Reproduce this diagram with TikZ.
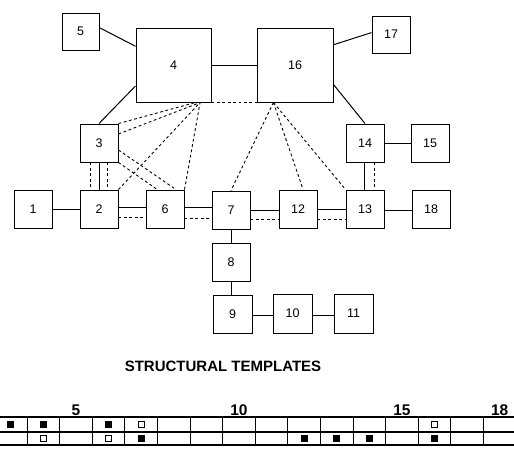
\documentclass[tikz,border=0pt]{standalone}
\usepackage{fontspec}
\setmainfont{Liberation Sans}
\usetikzlibrary{calc}
\begin{document}
\begin{tikzpicture}[x=1pt,y=-1pt,
  box/.style={draw,line width=1pt,inner sep=0pt,minimum width=38pt,minimum height=38pt,font=\fontsize{12.5}{15}\selectfont},
  conn/.style={line width=1pt},
  dsh/.style={line width=0.9pt,dash pattern=on 2.8pt off 2.6pt},
  tnum/.style={font=\bfseries\fontsize{15.5}{18}\selectfont,inner sep=0pt},
  fsq/.style={fill=black,inner sep=0pt,minimum size=7pt},
  osq/.style={draw,fill=white,line width=0.7pt,inner sep=0pt,minimum size=5.5pt}]
\useasboundingbox (0,0) rectangle (514,461);
% boxes
\node[box,minimum width=37pt,minimum height=37pt] (n5) at (80.5,31.5) {5};
\node[box,minimum width=75pt,minimum height=74pt] (n4) at (173.5,65) {4};
\node[box,minimum width=76pt,minimum height=74pt] (n16) at (295,65) {16};
\node[box,minimum height=37pt] (n17) at (391,34.5) {17};
\node[box] (n3) at (99,143) {3};
\node[box] (n14) at (365,143) {14};
\node[box] (n15) at (430,143) {15};
\node[box] (n1) at (33,209) {1};
\node[box] (n2) at (99,209) {2};
\node[box] (n6) at (165,209) {6};
\node[box] (n7) at (231,210) {7};
\node[box] (n12) at (298,209) {12};
\node[box] (n13) at (365,209) {13};
\node[box] (n18) at (431,209) {18};
\node[box] (n8) at (231,262) {8};
\node[box,minimum width=39pt] (n9) at (232.5,314) {9};
\node[box,minimum width=39pt,minimum height=39pt] (n10) at (292.5,313.5) {10};
\node[box,minimum width=39pt,minimum height=39pt] (n11) at (353.5,313.5) {11};
% solid connectors
\draw[conn] ($(n5.north east)!0.4!(n5.south east)$) -- ($(n4.north west)!0.25!(n4.south west)$);
\draw[conn] ($(n4.north west)!0.78!(n4.south west)$) -- (n3.north);
\draw[conn] (n4.east) -- (n16.west);
\draw[dsh] (n4.south east) -- (n16.south west);
\draw[conn] ($(n16.north east)!0.23!(n16.south east)$) -- ($(n17.north west)!0.45!(n17.south west)$);
\draw[conn] ($(n16.north east)!0.76!(n16.south east)$) -- (n14.north);
\draw[conn] (n14.east) -- (n15.west);
\draw[conn] ([xshift=-1pt]n14.south) -- ([xshift=-1pt]n13.north);
\draw[dsh] ([xshift=9pt]n14.south) -- ([xshift=9pt]n13.north);
\draw[conn] (n3.south) -- (n2.north);
\draw[dsh] ([xshift=-9pt]n3.south) -- ([xshift=-9pt]n2.north);
\draw[dsh] ([xshift=8pt]n3.south) -- ([xshift=8pt]n2.north);
\draw[conn] (n1.east) -- (n2.west);
\draw[conn] (n2.east |- 0,207) -- (n6.west |- 0,207);
\draw[dsh] (n2.east |- 0,217) -- (n6.west |- 0,217);
\draw[conn] (n6.east |- 0,207) -- (n7.west |- 0,207);
\draw[dsh] (n6.east |- 0,218) -- (n7.west |- 0,218);
\draw[conn] (n7.east |- 0,210) -- (n12.west |- 0,210);
\draw[dsh] (n7.east |- 0,219) -- (n12.west |- 0,219);
\draw[conn] (n12.east |- 0,209) -- (n13.west |- 0,209);
\draw[dsh] (n12.east |- 0,219) -- (n13.west |- 0,219);
\draw[conn] (n13.east |- 0,210) -- (n18.west |- 0,210);
\draw[conn] (n7.south) -- (n8.north);
\draw[conn] (n8.south) -- (n8.south |- n9.north);
\draw[conn] (n9.east |- 0,315) -- (n10.west |- 0,315);
\draw[conn] (n10.east |- 0,315) -- (n11.west |- 0,315);
% dashed fan from 4
\coordinate (p4) at ($(n4.south west)!0.85!(n4.south east)$);
\coordinate (p4b) at ($(n4.south west)!0.79!(n4.south east)$);
\draw[dsh] (n3.north east) -- (p4b);
\draw[dsh] (n3.east |- 0,134) -- (p4);
\draw[dsh] (n2.north east) -- (p4);
\draw[dsh] (n6.north east) -- (p4);
\draw[dsh] (n3.east |- 0,150) -- ($(n6.north west)!0.78!(n6.north east)$);
\draw[dsh] (n3.south east) -- ($(n6.north west)!0.3!(n6.north east)$);
% dashed fan from 16
\coordinate (p16) at ($(n16.south west)!0.22!(n16.south east)$);
\draw[dsh] (p16) -- (n7.north);
\draw[dsh] (p16) -- ($(n12.north west)!0.63!(n12.north east)$);
\draw[dsh] (p16) -- (n13.north west);
% title
\node[font=\bfseries\fontsize{15}{18}\selectfont,inner sep=0pt] (title) at (223,366.5) {STRUCTURAL TEMPLATES};
% table
\draw[line width=2.4pt] (0,417) -- (514,417);
\draw[line width=1.2pt] (0,432) -- (514,432);
\draw[line width=2.4pt] (0,445) -- (514,445);
\foreach \k in {0,...,14} \draw[line width=0.9pt] ({27+32.6*\k},417) -- ({27+32.6*\k},445);
\node[tnum,anchor=base] (l5) at (75.9,415) {5};
\node[tnum,anchor=base] (l10) at (238.9,415) {10};
\node[tnum,anchor=base] (l15) at (401.9,415) {15};
\node[tnum,anchor=base] (l18) at (499.7,415) {18};
\foreach \c in {3,4,6} \node[fsq] (fa\c) at ({27+32.6*(\c-3.5)},424.5) {};
\foreach \c in {7,16} \node[osq] (oa\c) at ({27+32.6*(\c-3.5)},424.5) {};
\foreach \c in {4,6} \node[osq] (ob\c) at ({27+32.6*(\c-3.5)},438.5) {};
\foreach \c in {7,12,13,14,16} \node[fsq] (fb\c) at ({27+32.6*(\c-3.5)},438.5) {};
\end{tikzpicture}
\end{document}
